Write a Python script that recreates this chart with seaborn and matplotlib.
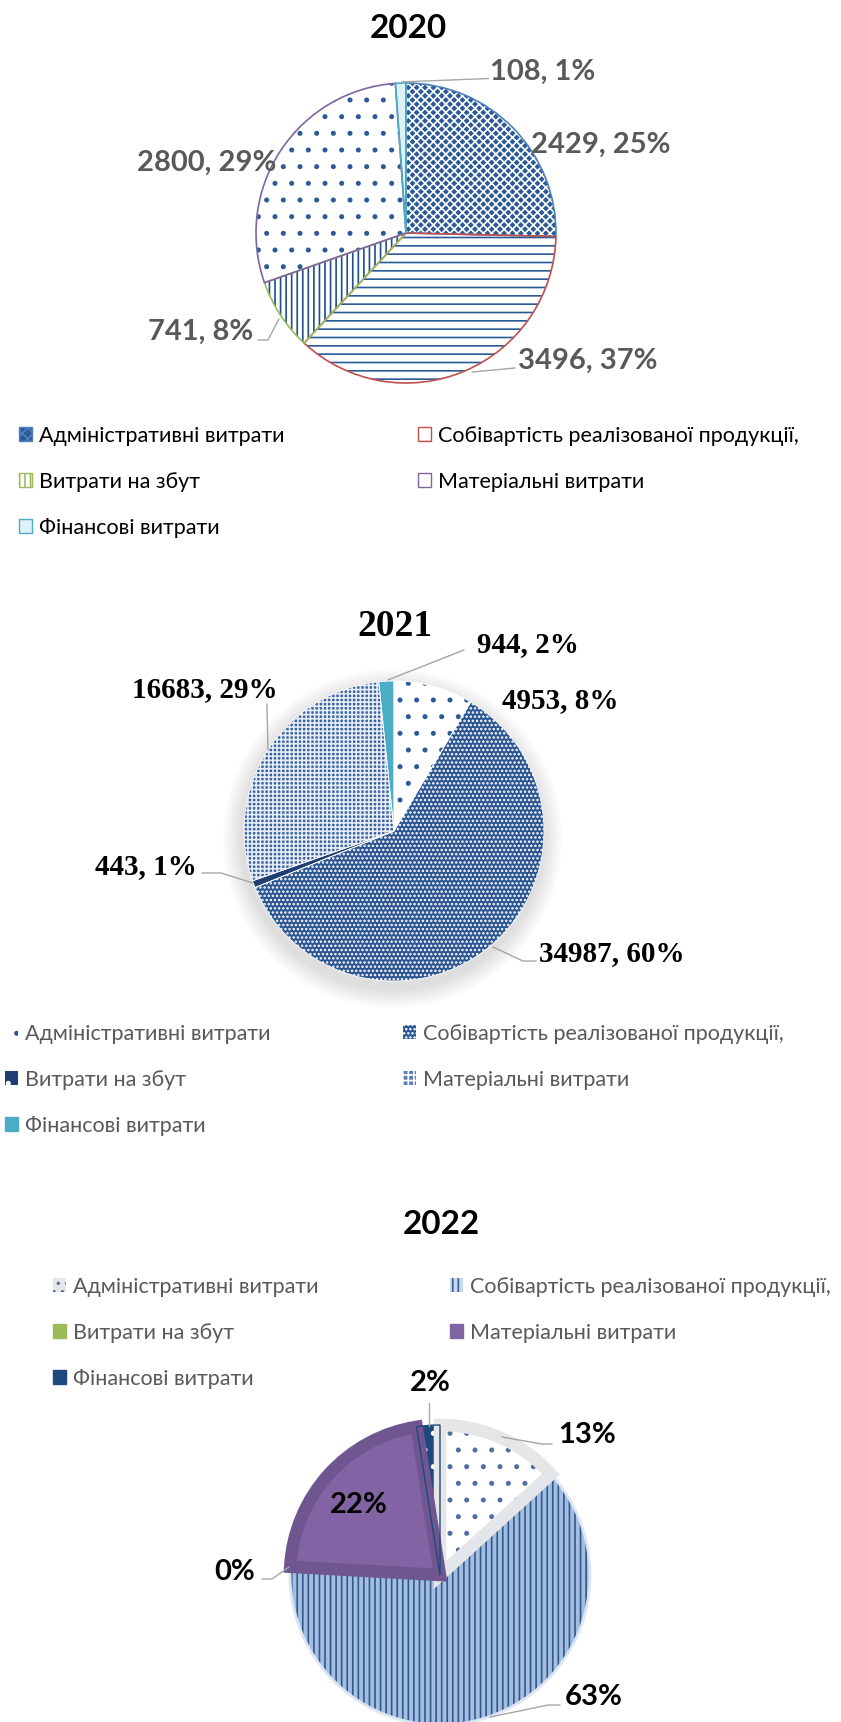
import numpy as np
import matplotlib
matplotlib.use("Agg")
import matplotlib.pyplot as plt
import matplotlib.patches as mpatches
import seaborn as sns

# дані
categories = ["Адміністративні витрати", "Собівартість реалізованої продукції,",
              "Витрати на збут", "Матеріальні витрати", "Фінансові витрати"]
values_2020 = [2429, 3496, 741, 2800, 108]
pct_2020 = [25, 37, 8, 29, 1]
values_2021 = [4953, 34987, 443, 16683, 944]
pct_2021 = [8, 60, 1, 29, 2]
shares_2022 = [13.3, 62.6, 0.2, 21.7, 2.5]
pct_2022 = [13, 63, 0, 22, 2]

W, H = 841, 1722
sns.set_theme(style="white")
plt.rcParams['font.family'] = ['Lato', 'DejaVu Sans']
plt.rcParams['hatch.linewidth'] = 1.2

fig = plt.figure(figsize=(W / 100, H / 100), dpi=100)
fig.patch.set_facecolor("white")

LINE = "#A6A6A6"


def pie_axes(cx, cy, r):
    return fig.add_axes([(cx - r) / W, 1 - (cy + r) / H, 2 * r / W, 2 * r / H])


def draw_pie(ax, sizes, faces, hatches, hcols, edges, elws, clip=False):
    wedges, _ = ax.pie(sizes, startangle=90, counterclock=False, radius=1)
    for w, fc, h, hc in zip(wedges, faces, hatches, hcols):
        w.set_facecolor(fc)
        w.set_edgecolor(hc)
        w.set_linewidth(0)
        w.set_hatch(h)
    outl, _ = ax.pie(sizes, startangle=90, counterclock=False, radius=1,
                     wedgeprops=dict(facecolor="none"))
    for o, w, ec, lw in zip(outl, wedges, edges, elws):
        o.set_edgecolor(ec)
        o.set_linewidth(lw)
        if clip:
            o.set_clip_path(w)
    ax.set_xlim(-1, 1)
    ax.set_ylim(-1, 1)
    ax.axis("off")
    return wedges


def leader(ax, pts):
    xs, ys = zip(*pts)
    ax.plot(xs, ys, color=LINE, lw=1, clip_on=False, zorder=5)


def add_legend(handles, x_px, top_px, color):
    idx_cols = [[0, 2, 4], [1, 3]]
    for col, xp in zip(idx_cols, x_px):
        fig.legend([handles[i] for i in col], [categories[i] for i in col],
                   loc="upper left", bbox_to_anchor=(xp / W, 1 - top_px / H),
                   frameon=False, fontsize=15.5, handlelength=0.62, handleheight=0.62,
                   handletextpad=0.3, labelspacing=1.2, borderpad=0,
                   borderaxespad=0, labelcolor=color)


# ---------------- 2020 ----------------
fig.text(408 / W, 1 - 29 / H, "2020", ha="center", va="center",
         fontsize=24, fontweight="bold", color="black")
ax1 = pie_axes(406, 233, 150)
draw_pie(ax1, values_2020,
         faces=["#2C5A97", "white", "white", "white", "#DDF1F7"],
         hatches=["xxxx", "--", "|||", ".", None],
         hcols=["white", "#2C5A97", "#1F4E8C", "#2C5A97", "#4BACC6"],
         edges=["#4F81BD", "#C0504D", "#9BBB59", "#8064A2", "#4BACC6"],
         elws=[1.2, 1.2, 1.2, 1.2, 1.2])
lab20 = [f"{v}, {p}%" for v, p in zip(values_2020, pct_2020)]
pos20 = [(0.833, 0.587, "left"), (0.747, -0.853, "left"), (-1.02, -0.66, "right"),
         (-0.867, 0.467, "right"), (0.56, 1.073, "left")]
for t, (x, y, ha) in zip(lab20, pos20):
    ax1.text(x, y, t, ha=ha, va="center", fontsize=21, fontweight="bold", color="#595959")
leader(ax1, [(0.55, 1.03), (-0.03, 1.007)])
leader(ax1, [(-0.987, -0.713), (-0.92, -0.713), (-0.847, -0.573)])
leader(ax1, [(0.727, -0.9), (0.44, -0.927)])

h20 = [mpatches.Patch(facecolor="#2C5A97", edgecolor="#4F81BD", hatch="xxx"),
       mpatches.Patch(facecolor="white", edgecolor="#C0504D", hatch="-"),
       mpatches.Patch(facecolor="white", edgecolor="#9BBB59", hatch="|||"),
       mpatches.Patch(facecolor="white", edgecolor="#8064A2"),
       mpatches.Patch(facecolor="#DDF1F7", edgecolor="#4BACC6")]
add_legend(h20, [19, 418], 426, "black")

# ---------------- 2021 ----------------
fig.text(395 / W, 1 - 627 / H, "2021", ha="center", va="center",
         fontsize=27, fontweight="bold", color="black", family="Liberation Serif")
ax2 = pie_axes(394, 831, 150)
for k in range(1, 12):
    ax2.add_patch(mpatches.Circle((-0.01, -0.05), 1 + 0.012 * k, facecolor="black",
                                  edgecolor="none", alpha=0.012, zorder=0, clip_on=False))
draw_pie(ax2, values_2021,
         faces=["white", "#2B5591", "#1F3F73", "#3D639F", "#4BACC6"],
         hatches=[".", "....", None, "++++", None],
         hcols=["#2C5A97", "white", "#1F3F73", "#E4ECF6", "#4BACC6"],
         edges=["white", "white", "white", "white", "white"],
         elws=[0.6, 0.6, 0.6, 0.6, 0.6])
lab21 = [f"{v}, {p}%" for v, p in zip(values_2021, pct_2021)]
pos21 = [(0.72, 0.873, "left"), (0.967, -0.82, "left"), (-1.313, -0.24, "right"),
         (-0.773, 0.94, "right"), (0.553, 1.24, "left")]
for t, (x, y, ha) in zip(lab21, pos21):
    ax2.text(x, y, t, ha=ha, va="center", fontsize=21, fontweight="bold",
             color="black", family="Liberation Serif")
leader(ax2, [(0.467, 1.207), (-0.04, 1.007)])
leader(ax2, [(-0.847, 0.847), (-0.84, 0.54)])
leader(ax2, [(-1.28, -0.28), (-1.153, -0.28), (-0.94, -0.347)])
leader(ax2, [(0.947, -0.867), (0.86, -0.867), (0.66, -0.773)])

h21 = [mpatches.Patch(facecolor="white", edgecolor="#2C5A97", hatch=".", lw=0),
       mpatches.Patch(facecolor="#2B5591", edgecolor="white", hatch="....", lw=0),
       mpatches.Patch(facecolor="#1F3F73", edgecolor="white", hatch=".", lw=0),
       mpatches.Patch(facecolor="#5E7FB5", edgecolor="white", hatch="+++", lw=0),
       mpatches.Patch(facecolor="#4BACC6", edgecolor="#4BACC6")]
add_legend(h21, [5, 403], 1024, "#595959")

# ---------------- 2022 ----------------
fig.text(441 / W, 1 - 1224 / H, "2022", ha="center", va="center",
         fontsize=24, fontweight="bold", color="black")
h22 = [mpatches.Patch(facecolor="#E7E7E7", edgecolor="#4F6FA0", hatch="..", lw=0),
       mpatches.Patch(facecolor="#C6D9F0", edgecolor="#3B5E8F", hatch="|||", lw=0),
       mpatches.Patch(facecolor="#9BBB59", edgecolor="#9BBB59"),
       mpatches.Patch(facecolor="#8064A2", edgecolor="#8064A2"),
       mpatches.Patch(facecolor="#1F497D", edgecolor="#1F497D")]
add_legend(h22, [53, 450], 1277, "#595959")

ax3 = pie_axes(440, 1575, 150)
draw_pie(ax3, shares_2022,
         faces=["white", "#A3BEE3", "#9BBB59", "#8264A4", "#1F497D"],
         hatches=[".", "|||", None, None, "."],
         hcols=["#4F6FA0", "#34578A", "#9BBB59", "#8264A4", "white"],
         edges=["#E6E6E6", "#DCE6F2", "#9BBB59", "#6F5690", "#1F497D"],
         elws=[9, 2, 1, 9, 1], clip=True)
lab22 = [f"{p}%" for p in pct_2022]
pos22 = [(0.787, 0.933, "left"), (0.833, -0.813, "left"), (-1.233, 0.02, "right"),
         (-0.54, 0.467, "center"), (-0.067, 1.28, "center")]
for t, (x, y, ha) in zip(lab22, pos22):
    ax3.text(x, y, t, ha=ha, va="center", fontsize=21, fontweight="bold", color="black")
leader(ax3, [(-0.073, 1.147), (-0.073, 0.993)])
leader(ax3, [(0.747, 0.873), (0.68, 0.873), (0.413, 0.92)])
leader(ax3, [(-1.187, -0.027), (-1.12, -0.027), (-1.007, 0.053)])
leader(ax3, [(0.8, -0.867), (0.72, -0.867), (0.333, -0.947)])

fig.savefig("out.png", dpi=100, facecolor="white")
